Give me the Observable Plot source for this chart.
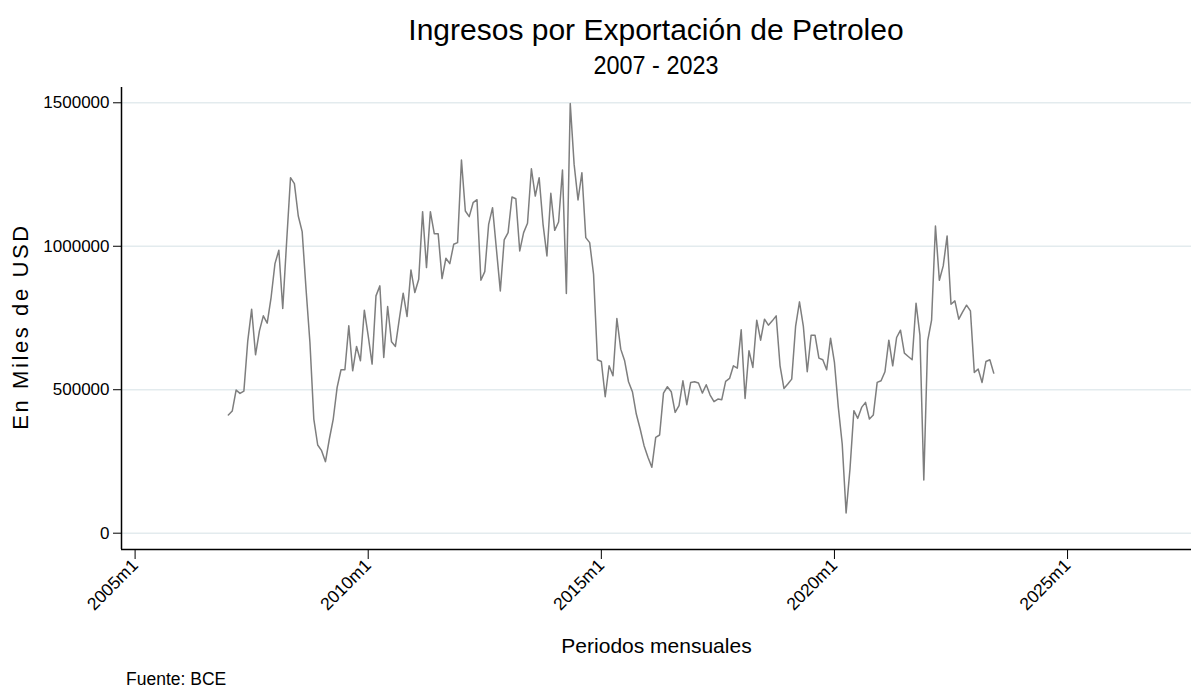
<!DOCTYPE html>
<html><head><meta charset="utf-8">
<script src="https://cdn.jsdelivr.net/npm/d3@7"></script>
<script src="https://cdn.jsdelivr.net/npm/@observablehq/plot@0.6"></script>
<style>
body{margin:0;background:#fff}
#wrap{position:relative;width:1191px;height:688px;overflow:hidden;background:#fff;font-family:"Liberation Sans",Arial,sans-serif;color:#000}
.t{position:absolute;white-space:nowrap;line-height:1}
#chart{position:absolute;left:0;top:80px}
</style></head><body>
<div id="wrap">
<div id="title" class="t" style="left:121px;width:1070px;top:14.6px;text-align:center;font-size:30px">Ingresos por Exportación de Petroleo</div>
<div id="subtitle" class="t" style="left:121px;width:1070px;top:52px;text-align:center;font-size:26px;transform:scaleX(0.9)">2007 - 2023</div>
<div id="chart"></div>
<div id="caption" class="t" style="left:126px;top:670.5px;font-size:17.5px">Fuente: BCE</div>
</div>
<script>
// Monthly oil export revenue (thousands of USD), 2007m1 .. 2023m6
const v2007 = [411800, 425700, 498800, 487200, 495300, 670500, 780700, 621800, 705300, 757500, 732000, 821300];
const v2008 = [939600, 986000, 783000, 1015000, 1238900, 1218000, 1105500, 1051000, 850000, 664700, 397900, 307400];
const v2009 = [287700, 249400, 328300, 397900, 508000, 569600, 569600, 722700, 566000, 650800, 600900, 777200];
const v2010 = [687900, 589300, 827100, 861900, 612500, 790000, 667000, 650800, 745900, 836400, 755200, 917600];
const v2011 = [838700, 885100, 1120600, 925700, 1120600, 1044000, 1044000, 887400, 958200, 939600, 1006900, 1012700];
const v2012 = [1300400, 1122900, 1103200, 1151900, 1162300, 881600, 911800, 1076500, 1134500, 989500, 844500, 1022000];
const v2013 = [1047500, 1171600, 1165800, 983700, 1047500, 1080000, 1270200, 1175100, 1238900, 1076500, 966300, 1184400];
const v2014 = [1055600, 1084600, 1265600, 835200, 1497600, 1285300, 1161200, 1256300, 1030100, 1012700, 902500, 604400];
const v2015 = [598600, 475600, 583500, 548700, 748200, 641500, 600900, 527800, 493000, 415300, 363100, 305100];
const v2016 = [264500, 229700, 334100, 342200, 488400, 510400, 493000, 421100, 444300, 531300, 447800, 525500];
const v2017 = [527800, 523200, 488400, 517400, 481400, 458200, 467500, 465200, 529000, 539400, 583500, 575400];
const v2018 = [708800, 469800, 635700, 577700, 742400, 672800, 745900, 725000, 740100, 757500, 583500, 504600];
const v2019 = [519700, 537100, 720400, 806200, 720400, 562600, 690200, 690200, 610200, 604400, 569600, 679800];
const v2020 = [595100, 438500, 310900, 70800, 223900, 426900, 400200, 438500, 455900, 397900, 411800, 525500];
const v2021 = [531300, 562600, 672800, 583500, 682100, 707600, 627600, 616000, 604400, 801600, 690200, 185600];
const v2022 = [670500, 742400, 1070700, 881600, 931500, 1035900, 798100, 809700, 745900, 771400, 794600, 774900];
const v2023 = [560300, 571900, 525500, 598600, 604400, 558000];

const startYear = 2007;
const yearly = [v2007, v2008, v2009, v2010, v2011, v2012, v2013, v2014, v2015, v2016, v2017, v2018, v2019, v2020, v2021, v2022, v2023];
const xTickLabels = ["2005m1", "2010m1", "2015m1", "2020m1", "2025m1"];
const yTicks = [0, 500000, 1000000, 1500000];

// Stata-style monthly index (months since 1960m1)
const toIdx = s => { const [y, m] = s.split("m").map(Number); return (y - 1960) * 12 + (m - 1); };
const fromIdx = i => `${Math.floor(i / 12) + 1960}m${(i % 12) + 1}`;
const xTicks = xTickLabels.map(toIdx);

const data = [];
yearly.forEach((arr, yi) => arr.forEach((v, mi) => data.push({t: toIdx(`${startYear + yi}m${mi + 1}`), v})));

const xDomain = [536.5, 811.9];
const yDomain = [-56800, 1553300];

const chart = Plot.plot({
  width: 1191,
  height: 585,
  marginLeft: 121,
  marginRight: 0,
  marginTop: 7,
  marginBottom: 116,
  style: {fontFamily: "'Liberation Sans', Arial, sans-serif", fontSize: "17px", color: "#000", background: "#fff"},
  x: {type: "linear", domain: xDomain},
  y: {domain: yDomain},
  marks: [
    Plot.ruleY(yTicks, {stroke: "#e3ebee", strokeWidth: 1.5}),
    Plot.line(data, {x: "t", y: "v", stroke: "#7e7e7e", strokeWidth: 1.5}),
    Plot.ruleX([xDomain[0]], {stroke: "#000", strokeWidth: 1.5}),
    Plot.ruleY([yDomain[0]], {stroke: "#000", strokeWidth: 1.5}),
    Plot.axisY({ticks: yTicks, tickSize: 8, tickPadding: 4, tickFormat: d3.format("d"), label: null, fontSize: 17}),
    Plot.axisX({ticks: xTicks, tickSize: 10, tickPadding: 3, tickRotate: -45, tickFormat: fromIdx, label: null, fontSize: 17.5}),
    Plot.text(["En Miles de USD"], {text: d => d, frameAnchor: "left", textAnchor: "middle", rotate: -90, dx: -100.5, dy: 8, fontSize: 22}),
    Plot.text(["Periodos mensuales"], {text: d => d, frameAnchor: "bottom", dy: 103, fontSize: 21})
  ]
});
d3.select(chart).selectAll("text").filter(function() { return this.textContent === "En Miles de USD"; })
  .style("letter-spacing", "2.6px");
document.getElementById("chart").appendChild(chart);
</script>
</body></html>
